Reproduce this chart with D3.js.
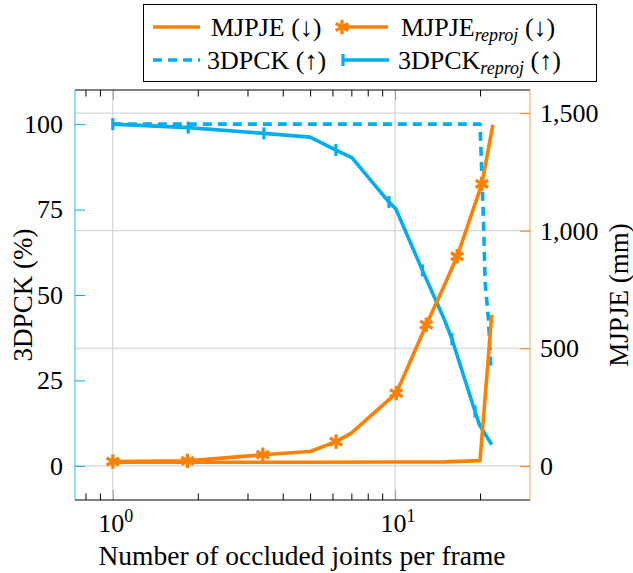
<!DOCTYPE html>
<html>
<head>
<meta charset="utf-8">
<script src="https://cdn.jsdelivr.net/npm/d3@7/dist/d3.min.js"></script>
<style>
body{margin:0;background:#fff}
text{font-family:"Liberation Serif","Times New Roman",serif;fill:#000}
</style>
</head>
<body>
<svg id="chart" width="633" height="573"></svg>
<script>
// number of occluded joints (x) and values
var jointsMjpje = [1, 5, 10, 15, 20, 22];
var mjpje = [15, 15, 16, 17, 22, 642];

var jointsMjpjeReproj = [1, 1.84, 3.4, 5.0, 6.18, 7.0, 10.1, 12.9, 14.8, 16.6, 20.3, 22.2];
var mjpjeReproj = [18, 21, 47, 61, 103, 139, 309, 600, 756, 891, 1199, 1450];
var mjpjeReprojMarks = [0, 1, 2, 4, 6, 7, 9, 10];

var jointsPck = [1, 20.0, 20.56, 20.85, 21.42, 21.84];
var pck = [100, 100, 72.1, 53.6, 42.8, 28.7];

var jointsPckReproj = [1, 1.85, 3.43, 5.0, 6.17, 7.03, 9.51, 10.06, 12.5, 15.0, 15.9, 19.2, 19.9, 22.0];
var pckReproj = [100, 99.0, 97.3, 96.2, 92.4, 90.2, 77.2, 75.2, 57.2, 42.5, 37.1, 15.9, 12.0, 6.2];
var pckReprojMarks = [0, 1, 2, 4, 6, 8, 10, 11];

var xMajor = [1, 10];
var xMinor = [0.8, 0.9, 2, 3, 4, 5, 6, 7, 8, 9, 20];
var pckTicks = [0, 25, 50, 75, 100];
var mjpjeTicks = [0, 500, 1000, 1500];

var ORANGE = "#ff8000", BLUE = "#00aeef";
var pLeft = 75, pRight = 530, pTop = 90, pBottom = 500;

var svg = d3.select("#chart");

var x = d3.scaleLog().domain([Math.pow(10, -0.134), Math.pow(10, 1.478)]).range([pLeft, pRight]);
var yL = d3.scaleLinear().domain([-10, 110]).range([pBottom, pTop]);
var yR = d3.scaleLinear().domain([-145.3, 1598.3]).range([pBottom, pTop]);

/* grid */
svg.append("g").selectAll("line")
	.data(mjpjeTicks).enter().append("line")
	.attr("x1", pLeft).attr("x2", pRight)
	.attr("y1", function(d){ return yR(d); }).attr("y2", function(d){ return yR(d); })
	.attr("stroke", "#cccccc").attr("stroke-width", 1);
svg.append("g").selectAll("line")
	.data(xMajor).enter().append("line")
	.attr("x1", function(d){ return x(d); }).attr("x2", function(d){ return x(d); })
	.attr("y1", pTop).attr("y2", pBottom)
	.attr("stroke", "#cccccc").attr("stroke-width", 1);

/* x ticks, bottom and top */
function styleAxis(g, color){
	g.select(".domain").remove();
	g.selectAll(".tick line").attr("stroke", color).attr("stroke-width", 1);
}
svg.append("g").attr("transform", "translate(0," + pBottom + ")")
	.call(d3.axisBottom(x).tickValues(xMinor).tickSize(-6.5).tickFormat(""))
	.call(styleAxis, "#000");
svg.append("g").attr("transform", "translate(0," + pTop + ")")
	.call(d3.axisTop(x).tickValues(xMinor).tickSize(-6.5).tickFormat(""))
	.call(styleAxis, "#000");
svg.append("g").attr("transform", "translate(0," + pBottom + ")")
	.call(d3.axisBottom(x).tickValues(xMajor).tickSize(-10).tickFormat(""))
	.call(styleAxis, "#999");
svg.append("g").attr("transform", "translate(0," + pTop + ")")
	.call(d3.axisTop(x).tickValues(xMajor).tickSize(-10).tickFormat(""))
	.call(styleAxis, "#999");

/* x tick labels as 10^k */
var xl = svg.append("g").selectAll("text")
	.data(xMajor).enter().append("text")
	.attr("x", function(d){ return x(d) + 3; })
	.attr("y", 532)
	.attr("text-anchor", "middle")
	.style("font-size", "26px");
xl.append("tspan").text("10");
xl.append("tspan").attr("dy", -10).style("font-size", "18px")
	.text(function(d){ return Math.round(Math.log10(d)); });

/* left axis */
svg.append("g").attr("transform", "translate(" + pLeft + ",0)")
	.call(d3.axisLeft(yL).tickValues(pckTicks).tickSize(-10).tickPadding(12))
	.call(function(g){
		g.select(".domain").remove();
		g.selectAll(".tick line").attr("stroke", BLUE).attr("stroke-width", 1);
		g.selectAll(".tick text").style("font-size", "26px").attr("fill", "#000")
			.style("font-family", "'Liberation Serif',serif");
	});
/* right axis */
svg.append("g").attr("transform", "translate(" + pRight + ",0)")
	.call(d3.axisRight(yR).tickValues(mjpjeTicks).tickSize(-10).tickPadding(10).tickFormat(d3.format(",")))
	.call(function(g){
		g.select(".domain").remove();
		g.selectAll(".tick line").attr("stroke", ORANGE).attr("stroke-width", 1);
		g.selectAll(".tick text").style("font-size", "26px").attr("fill", "#000")
			.style("font-family", "'Liberation Serif',serif");
	});

/* frame */
svg.append("line").attr("x1", pLeft).attr("x2", pRight).attr("y1", pTop).attr("y2", pTop).attr("stroke", "#000").attr("stroke-width", 1);
svg.append("line").attr("x1", pLeft).attr("x2", pRight).attr("y1", pBottom).attr("y2", pBottom).attr("stroke", "#000").attr("stroke-width", 1);
svg.append("line").attr("x1", pLeft).attr("x2", pLeft).attr("y1", pTop).attr("y2", pBottom).attr("stroke", BLUE).attr("stroke-opacity", 0.7).attr("stroke-width", 1.2);
svg.append("line").attr("x1", pRight).attr("x2", pRight).attr("y1", pTop).attr("y2", pBottom).attr("stroke", ORANGE).attr("stroke-opacity", 0.6).attr("stroke-width", 1.2);

/* series */
function pairs(xs, ys){ return xs.map(function(v, i){ return [v, ys[i]]; }); }
function drawLine(data, ys, color, dash){
	var line = d3.line().x(function(d){ return x(d[0]); }).y(function(d){ return ys(d[1]); });
	svg.append("path").datum(data)
		.attr("d", line).attr("fill", "none")
		.attr("stroke", color).attr("stroke-width", 3.6)
		.attr("stroke-linejoin", "round")
		.attr("stroke-dasharray", dash || null);
}
function asterisk(g, cx, cy, r){
	[90, 30, -30].forEach(function(a){
		var dx = r * Math.cos(a * Math.PI / 180), dy = r * Math.sin(a * Math.PI / 180);
		g.append("line").attr("x1", cx - dx).attr("y1", cy - dy).attr("x2", cx + dx).attr("y2", cy + dy)
			.attr("stroke", ORANGE).attr("stroke-width", 3.3);
	});
}
function bar(g, cx, cy, r){
	g.append("line").attr("x1", cx).attr("x2", cx).attr("y1", cy - r).attr("y2", cy + r)
		.attr("stroke", BLUE).attr("stroke-width", 3.2);
}

drawLine(pairs(jointsPck, pck), yL, BLUE, "9,6");
drawLine(pairs(jointsPckReproj, pckReproj), yL, BLUE);
var gm = svg.append("g");
pckReprojMarks.forEach(function(i){ bar(gm, x(jointsPckReproj[i]), yL(pckReproj[i]), 6); });

drawLine(pairs(jointsMjpje, mjpje), yR, ORANGE);
drawLine(pairs(jointsMjpjeReproj, mjpjeReproj), yR, ORANGE);
var go = svg.append("g");
mjpjeReprojMarks.forEach(function(i){ asterisk(go, x(jointsMjpjeReproj[i]), yR(mjpjeReproj[i]), 7.2); });

/* axis labels */
svg.append("text").attr("transform", "translate(32,295) rotate(-90)")
	.attr("text-anchor", "middle").style("font-size", "27px").text("3DPCK (%)");
svg.append("text").attr("transform", "translate(628,295) rotate(-90)")
	.attr("text-anchor", "middle").style("font-size", "27px").text("MJPJE (mm)");
svg.append("text").attr("x", 302).attr("y", 565)
	.attr("text-anchor", "middle").style("font-size", "27.5px").text("Number of occluded joints per frame");

/* legend */
var lg = svg.append("g");
lg.append("rect").attr("x", 143.5).attr("y", 4.5).attr("width", 453).attr("height", 77)
	.attr("fill", "#fff").attr("stroke", "#000").attr("stroke-width", 1);
var legendItems = [
	{name: "MJPJE", sub: "", arrow: "(\u2193)", color: ORANGE, dash: null, mark: null, lx: 153, tx: 211, row: 0},
	{name: "MJPJE", sub: "reproj", arrow: "(\u2193)", color: ORANGE, dash: null, mark: "star", lx: 341, tx: 401, row: 0},
	{name: "3DPCK", sub: "", arrow: "(\u2191)", color: BLUE, dash: "9,6", mark: null, lx: 153, tx: 207, row: 1},
	{name: "3DPCK", sub: "reproj", arrow: "(\u2191)", color: BLUE, dash: null, mark: "bar", lx: 342, tx: 398, row: 1}
];
legendItems.forEach(function(d){
	var ly = d.row === 0 ? 27 : 60;
	lg.append("line").attr("x1", d.lx).attr("x2", d.lx + 47).attr("y1", ly).attr("y2", ly)
		.attr("stroke", d.color).attr("stroke-width", 3.6).attr("stroke-dasharray", d.dash);
	if (d.mark === "star") asterisk(lg, d.lx + 1, ly, 7.2);
	if (d.mark === "bar") bar(lg, d.lx + 1, ly, 6);
	var t = lg.append("text").attr("x", d.tx).attr("y", ly + 8.5).style("font-size", "26px");
	t.append("tspan").text(d.name);
	if (d.sub) {
		t.append("tspan").attr("dy", 5).style("font-size", "18px").style("font-style", "italic").text(d.sub);
		t.append("tspan").attr("dy", -5).text(" " + d.arrow);
	} else {
		t.append("tspan").text(" " + d.arrow);
	}
});
</script>
</body>
</html>
